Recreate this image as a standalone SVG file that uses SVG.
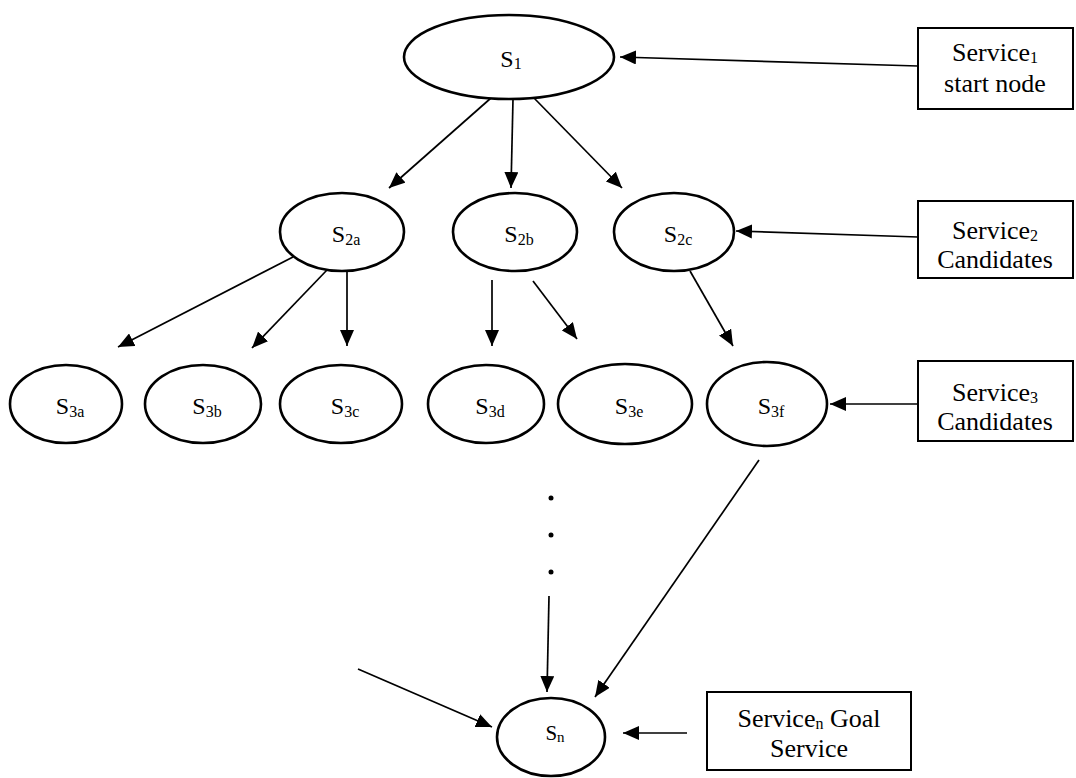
<svg xmlns="http://www.w3.org/2000/svg" width="1076" height="778" viewBox="0 0 1076 778">
<style>
.node ellipse{fill:#fff;stroke:#000;stroke-width:2.6}
.box rect{fill:#fff;stroke:#000;stroke-width:2}
text{font-family:"Liberation Serif","Times New Roman",serif;fill:#000;text-anchor:middle}
.lbl{font-size:24px}
.sub{font-size:16px}
.bt{font-size:26px}
.bsub{font-size:16px}
#connectors line{stroke:#000;stroke-width:1.7;marker-end:url(#ah)}
</style>
<defs>
<marker id="ah" markerUnits="userSpaceOnUse" markerWidth="16" markerHeight="14" refX="16" refY="7" orient="auto">
<path d="M0,0 L16,7 L0,14 z" fill="#000"/>
</marker>
</defs>
<rect width="1076" height="778" fill="#fff"/>
<g id="connectors">
<line x1="918" y1="66" x2="620" y2="57"/>
<line x1="491" y1="98" x2="389" y2="188"/>
<line x1="513" y1="99" x2="511" y2="188"/>
<line x1="534" y1="98" x2="622" y2="188"/>
<line x1="918" y1="237" x2="736" y2="231"/>
<line x1="293" y1="257" x2="118" y2="347"/>
<line x1="327" y1="270" x2="252" y2="348"/>
<line x1="347" y1="270" x2="347" y2="346"/>
<line x1="492" y1="280" x2="492" y2="346"/>
<line x1="533" y1="281" x2="577" y2="339"/>
<line x1="690" y1="271" x2="733" y2="346"/>
<line x1="918" y1="404" x2="830" y2="404"/>
<line x1="759" y1="460" x2="595" y2="697"/>
<line x1="549" y1="596" x2="547" y2="692"/>
<line x1="358" y1="669" x2="492" y2="727"/>
<line x1="687" y1="733" x2="623" y2="733"/>
</g>
<g id="dots" fill="#000">
<circle cx="551" cy="498" r="2.5"/>
<circle cx="551" cy="535" r="2.5"/>
<circle cx="551" cy="572" r="2.5"/>
</g>
<g id="S1" class="node"><ellipse cx="509" cy="57" rx="105" ry="42"/><text class="lbl" x="511" y="67">S<tspan class="sub" dy="2">1</tspan></text></g>
<g id="S2a" class="node"><ellipse cx="342" cy="232" rx="62" ry="39"/><text class="lbl" x="346" y="242">S<tspan class="sub" dy="3">2a</tspan></text></g>
<g id="S2b" class="node"><ellipse cx="515" cy="232" rx="62" ry="39"/><text class="lbl" x="519" y="242">S<tspan class="sub" dy="3">2b</tspan></text></g>
<g id="S2c" class="node"><ellipse cx="674" cy="232" rx="60" ry="39"/><text class="lbl" x="678" y="242">S<tspan class="sub" dy="3">2c</tspan></text></g>
<g id="S3a" class="node"><ellipse cx="66" cy="404" rx="56" ry="39"/><text class="lbl" x="70" y="414">S<tspan class="sub" dy="3">3a</tspan></text></g>
<g id="S3b" class="node"><ellipse cx="203" cy="404" rx="58" ry="39"/><text class="lbl" x="207" y="414">S<tspan class="sub" dy="3">3b</tspan></text></g>
<g id="S3c" class="node"><ellipse cx="341" cy="404" rx="61" ry="39"/><text class="lbl" x="345" y="414">S<tspan class="sub" dy="3">3c</tspan></text></g>
<g id="S3d" class="node"><ellipse cx="486" cy="404" rx="58" ry="39"/><text class="lbl" x="490" y="414">S<tspan class="sub" dy="3">3d</tspan></text></g>
<g id="S3e" class="node"><ellipse cx="625" cy="404" rx="67" ry="40"/><text class="lbl" x="629" y="414">S<tspan class="sub" dy="3">3e</tspan></text></g>
<g id="S3f" class="node"><ellipse cx="767" cy="404" rx="60" ry="42"/><text class="lbl" x="771" y="414">S<tspan class="sub" dy="3">3f</tspan></text></g>
<g id="Sn" class="node"><ellipse cx="551" cy="737" rx="54" ry="39"/><text style="font-size:21px" x="555" y="740">S<tspan style="font-size:15px" dy="2">n</tspan></text></g>
<g id="box1" class="box"><rect x="918" y="28" width="155" height="81"/><text class="bt" x="995" y="61">Service<tspan class="bsub" dy="2">1</tspan></text><text class="bt" x="995" y="92">start node</text></g>
<g id="box2" class="box"><rect x="918" y="201" width="155" height="77"/><text class="bt" x="995" y="239">Service<tspan class="bsub" dy="2">2</tspan></text><text class="bt" x="995" y="268">Candidates</text></g>
<g id="box3" class="box"><rect x="918" y="361" width="155" height="80"/><text class="bt" x="995" y="401">Service<tspan class="bsub" dy="2">3</tspan></text><text class="bt" x="995" y="430">Candidates</text></g>
<g id="boxn" class="box"><rect x="707" y="692" width="204" height="78"/><text class="bt" x="809" y="727">Service<tspan class="bsub" dy="2">n</tspan><tspan dy="-2"> Goal</tspan></text><text class="bt" x="809" y="757">Service</text></g>
</svg>
